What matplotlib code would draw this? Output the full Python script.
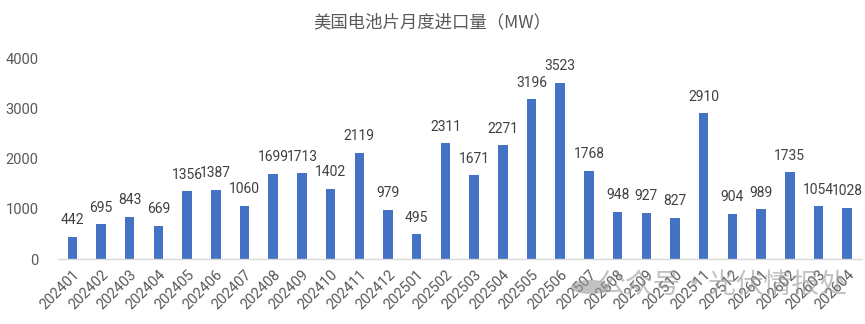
import matplotlib
matplotlib.use("Agg")
import matplotlib.pyplot as plt
from matplotlib.patches import Circle

plt.rcParams['font.family'] = ['Roboto', 'Noto Sans CJK SC', 'DejaVu Sans']

months = ["202401", "202402", "202403", "202404", "202405", "202406", "202407",
          "202408", "202409", "202410", "202411", "202412", "202501", "202502",
          "202503", "202504", "202505", "202506", "202507", "202508", "202509",
          "202510", "202511", "202512", "202601", "202602", "202603", "202604"]
values = [442, 695, 843, 669, 1356, 1387, 1060, 1699, 1713, 1402, 2119, 979,
          495, 2311, 1671, 2271, 3196, 3523, 1768, 948, 927, 827, 2910, 904,
          989, 1735, 1054, 1028]
title = "美国电池片月度进口量（MW）"
yticks = [0, 1000, 2000, 3000, 4000]
watermark = "公众号·光伏情报处"

fig = plt.figure(figsize=(8.65, 3.24), dpi=100)
ax = fig.add_axes([0.067, 0.2006, 0.929, 0.618])

x = list(range(len(months)))
ax.bar(x, values, width=0.33, color="#4472C4", zorder=2)
for xi, v in zip(x, values):
    ax.text(xi, v + 190, str(v), ha="center", va="bottom", fontsize=10, color="#404040")

ax.set_xlim(-0.5, len(months) - 0.5)
ax.set_ylim(0, 4000)
ax.set_yticks(yticks)
ax.set_yticklabels([str(t) for t in yticks], fontsize=10.5, color="#595959")
ax.set_xticks(x)
ax.set_xticklabels(months, rotation=45, ha="right", rotation_mode="anchor",
                   fontsize=10.5, color="#595959")
ax.tick_params(axis="both", length=0)
ax.tick_params(axis="y", pad=14)
ax.tick_params(axis="x", pad=6)
for s in ["top", "right", "left"]:
    ax.spines[s].set_visible(False)
ax.spines["bottom"].set_color("#D9D9D9")
ax.spines["bottom"].set_linewidth(1.0)

fig.text(0.5, 0.93, title, ha="center", va="center", fontsize=12.5,
         color="#595959", family=['Noto Sans CJK SC', 'DejaVu Sans'])

# watermark
fig.patches.append(Circle((590 / 865, 1 - 287 / 324), 0.022, transform=fig.transFigure,
                          facecolor="#9A9A9A", alpha=0.6, edgecolor="none", zorder=5))
fig.text(0.835, 0.12, watermark, ha="center", va="center", fontsize=20,
         color="#9A9A9A", alpha=0.6, family=['Noto Sans CJK SC', 'DejaVu Sans'], zorder=5)

fig.savefig("out.png", dpi=100)
